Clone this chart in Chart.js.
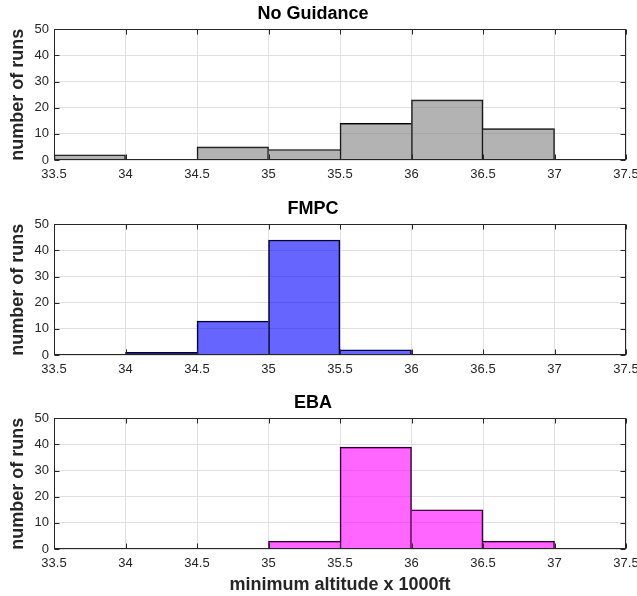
<!DOCTYPE html>
<html>
<head>
<meta charset="utf-8">
<title>minimum altitude histograms</title>
<script src="https://cdn.jsdelivr.net/npm/chart.js@4.4.0/dist/chart.umd.min.js"></script>
<style>
  body { margin: 0; background: #fff; }
  #wrap { position: relative; width: 637px; height: 596px; }
  canvas { position: absolute; left: 0; }
</style>
</head>
<body>
<div id="wrap">
  <canvas id="hist-none" width="637" height="195" style="top:0px"></canvas>
  <canvas id="hist-fmpc" width="637" height="195" style="top:195px"></canvas>
  <canvas id="hist-eba" width="637" height="207" style="top:389px"></canvas>
</div>
<script>
// bins are 0.5 (x 1000 ft) wide, given by their centres
var binCenters = [33.75, 34.25, 34.75, 35.25, 35.75, 36.25, 36.75, 37.25];
var xTickLabels = ['33.5', '34', '34.5', '35', '35.5', '36', '36.5', '37', '37.5'];

// number of runs in each bin
var noGuidance = [2, 0, 5, 4, 14, 23, 12, 0];
var fmpc = [0, 1, 13, 44, 2, 0, 0, 0];
var eba = [0, 0, 0, 3, 39, 15, 3, 0];

var FONT = "'Liberation Sans', Arial, Helvetica, sans-serif";
var INK = '#262626';
Chart.defaults.font.family = FONT;

// matlab style box with inward tick marks on all four sides
var boxPlugin = {
    id: 'box',
    afterDraw: function(chart) {
        var ctx = chart.ctx, a = chart.chartArea;
        var xs = chart.scales.x, ys = chart.scales.y;
        var l = Math.round(a.left) + 0.5, r = Math.round(a.right) - 0.5;
        var t = Math.round(a.top) + 0.5, b = Math.round(a.bottom) - 0.5;
        var len = 5;
        ctx.save();
        ctx.strokeStyle = INK;
        ctx.lineWidth = 1;
        ctx.strokeRect(l, t, r - l, b - t);
        ctx.beginPath();
        xs.ticks.forEach(function(tk) {
            var px = Math.round(xs.getPixelForValue(tk.value)) + 0.5;
            ctx.moveTo(px, b); ctx.lineTo(px, b - len);
            ctx.moveTo(px, t); ctx.lineTo(px, t + len);
        });
        ys.ticks.forEach(function(tk) {
            var py = Math.round(ys.getPixelForValue(tk.value)) + 0.5;
            ctx.moveTo(l, py); ctx.lineTo(l + len, py);
            ctx.moveTo(r, py); ctx.lineTo(r - len, py);
        });
        ctx.stroke();
        ctx.restore();
    }
};

function makeHist(id, title, counts, fill, xTitle, axisH) {
    var pts = [];
    for (var i = 0; i < binCenters.length; i++) {
        pts.push({ x: binCenters[i], y: counts[i] });
    }
    // shared edges drawn once, by the taller neighbour
    var edge = function(ctx) {
        var i = ctx.dataIndex;
        var c = counts[i];
        var prev = i > 0 ? counts[i - 1] : 0;
        var next = i < counts.length - 1 ? counts[i + 1] : 0;
        return { top: 1, bottom: 0, left: c >= prev ? 1 : 0, right: c > next ? 1 : 0 };
    };
    return new Chart(document.getElementById(id), {
        type: 'bar',
        data: {
            datasets: [{
                data: pts,
                backgroundColor: fill,
                borderColor: '#000',
                borderWidth: edge,
                borderSkipped: false,
                barPercentage: 1,
                categoryPercentage: 1
            }]
        },
        options: {
            responsive: false,
            animation: false,
            events: [],
            layout: { padding: { left: 0, right: 11, top: 0, bottom: 0 } },
            plugins: {
                legend: { display: false },
                tooltip: { enabled: false },
                title: {
                    display: true,
                    text: title,
                    color: '#000',
                    font: { size: 18, weight: 'bold' },
                    padding: { top: 3, bottom: 4.7 }
                }
            },
            scales: {
                x: {
                    type: 'linear',
                    min: 33.5,
                    max: 37.5,
                    offset: false,
                    grid: { color: '#e0e0e0', drawTicks: false, offset: false },
                    border: { display: false },
                    ticks: {
                        stepSize: 0.5,
                        padding: 7,
                        color: INK,
                        maxRotation: 0,
                        autoSkip: false,
                        font: { size: 13 },
                        callback: function(v, i) { return xTickLabels[i]; }
                    },
                    title: {
                        display: !!xTitle,
                        text: xTitle || '',
                        color: INK,
                        font: { size: 18, weight: 'bold' },
                        padding: { top: 0, bottom: 0 }
                    },
                    afterFit: function(s) {
                        s.height = axisH;
                        // let the last label run off the edge
                        s.paddingLeft = 0;
                        s.paddingRight = 0;
                    }
                },
                y: {
                    min: 0,
                    max: 50,
                    grid: { color: '#e0e0e0', drawTicks: false },
                    border: { display: false },
                    ticks: { stepSize: 10, padding: 5, color: INK, font: { size: 13 } },
                    title: {
                        display: true,
                        text: 'number of runs',
                        color: INK,
                        font: { size: 18, weight: 'bold' },
                        padding: { top: 7, bottom: 0 }
                    },
                    afterFit: function(s) { s.width = 54; }
                }
            }
        },
        plugins: [boxPlugin]
    });
}

makeHist('hist-none', 'No Guidance', noGuidance, 'rgba(128,128,128,0.6)', null, 35);
makeHist('hist-fmpc', 'FMPC', fmpc, 'rgba(0,0,255,0.6)', null, 35);
makeHist('hist-eba', 'EBA', eba, 'rgba(255,0,255,0.6)', 'minimum altitude x 1000ft', 47);
</script>
</body>
</html>
